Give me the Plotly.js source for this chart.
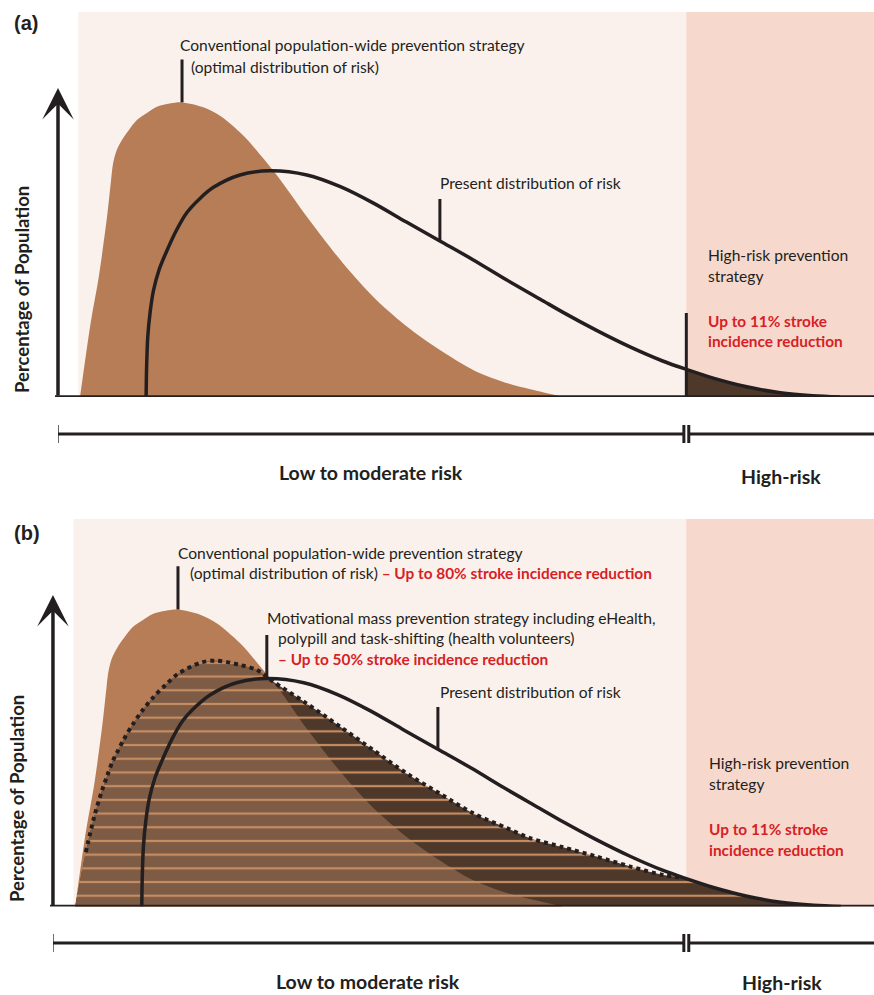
<!DOCTYPE html>
<html>
<head>
<meta charset="utf-8">
<script src="https://cdn.plot.ly/plotly-3.0.1.min.js"></script>
<style>html,body{margin:0;padding:0;background:#fff;}#chart{width:874px;height:995px;}</style>
</head>
<body>
<div id="chart"></div>
<script>
// ---------------- DATA (risk units 0-100, population share in arbitrary units) ----------------
const riskGrid       = [2.7,4.0,5.0,6.0,6.5,6.75,7.2,7.8,8.6,9.7,10.9,12.2,13.7,15.2,17.9,19.9,22.7,24.8,26.8,30.8,34.9,38.9,43,47,51.1,55.2,58,62,66.1,70.2,74.2,76.5,80.3,84.4,88.5,92.5,95.8];
const optimalY       = [0,24.7,40.1,59.9,72.2,77.8,82.3,85.5,88.7,92.4,94.7,96.8,97.8,98.2,96.5,93.7,87.2,80.7,74,59,44.7,32.7,23,15.3,8.7,4.5,2.5,0,0,0,0,0,0,0,0,0,0];
const motivationalY  = [0,18,29.5,38.7,42.5,44.4,47.7,51,55.2,60.2,64.9,69.2,73.3,76.9,80.6,81.3,79.9,78.2,74.3,67.2,59.5,51.8,44,37.4,30.8,25.9,22.6,19.6,16.5,13.2,10.4,9.6,6.3,3.4,1.4,0.4,0];
const presentX       = [10.8,10.85,11.0,11.3,11.7,12.4,13.3,14.5,15.8,17.4,19,22.3,26,30.5,34.6,38.6,42.7,46.8,50.9,55,59.1,61.9,66,70.1,74.1,77,80.3,84.4,88.5,92.5,95.8];
const presentY       = [0,9,20,28.5,35.5,42.5,48.5,55.5,61.5,66.2,69.8,74,75.4,74,70.1,64.7,58.3,52,45.7,39,32.6,28.2,22.2,16.7,12,9.2,6.3,3.4,1.4,0.4,0];
const highRiskThreshold = 77;
const dottedStart = 4.0, dottedEnd = 76.5;

const txt = {
  a: '(a)', b: '(b)',
  yTitle: 'Percentage of Population',
  conv1: 'Conventional population-wide prevention strategy',
  conv2: '(optimal distribution of risk)',
  conv2red: ' – Up to 80% stroke incidence reduction',
  motiv1: 'Motivational mass prevention strategy including eHealth,',
  motiv2: 'polypill and task-shifting (health volunteers)',
  motiv3: '– Up to 50% stroke incidence reduction',
  present: 'Present distribution of risk',
  hr1: 'High-risk prevention', hr2: 'strategy',
  hrRed1: 'Up to 11% stroke', hrRed2: 'incidence reduction',
  low: 'Low to moderate risk', high: 'High-risk'
};

// ---------------- STYLE ----------------
const W = 874, H = 995;
const C = {
  bgLight: '#fbf1ec', bgHigh: '#f6d8cc', brown: '#b67d56', medium: '#7d5b45',
  dark: '#4e382a', stripe: '#c68d62', red: '#d71f26', ink: '#231f20'
};
const FONT = 'Lato, "Open Sans", sans-serif';
const FS = 15.6, FSB = 15.4;
const px = x => x / W;
const py = y => 1 - y / H;

const lastNonZero = arr => { let i = arr.findIndex((v, k) => k > 0 && v === 0); return i < 0 ? arr.length : i + 1; };
const nOpt = lastNonZero(optimalY);
const minY = riskGrid.map((x, i) => Math.min(optimalY[i], motivationalY[i]));
const peakIdx = optimalY.indexOf(Math.max(...optimalY));
const presPeakIdx = presentY.indexOf(Math.max(...presentY));
const presLeaderIdx = presentX.indexOf(46.8);
const hrIdx = presentX.findIndex(v => v >= highRiskThreshold);
const dotI0 = riskGrid.indexOf(dottedStart), dotI1 = riskGrid.indexOf(dottedEnd);

const SPL = { shape: 'spline', smoothing: 0.9 };
function area(x, y, xa, ya, color, pattern) {
  const t = { x, y, xaxis: xa, yaxis: ya, type: 'scatter', mode: 'lines', fill: 'tozeroy',
    fillcolor: color, line: Object.assign({ width: 0, color: color }, SPL), hoverinfo: 'skip' };
  if (pattern) t.fillpattern = { shape: '-', size: 13.7, solidity: 0.16, fgcolor: C.stripe, bgcolor: color, fillmode: 'replace' };
  return t;
}
function curve(x, y, xa, ya, dash, width) {
  return { x, y, xaxis: xa, yaxis: ya, type: 'scatter', mode: 'lines',
    line: Object.assign({ width: width || 3.5, color: C.ink, dash: dash || 'solid' }, SPL), hoverinfo: 'skip' };
}

const traces = [
  // panel a
  area(riskGrid.slice(0, nOpt), optimalY.slice(0, nOpt), 'x', 'y', C.brown),
  area(presentX.slice(hrIdx), presentY.slice(hrIdx), 'x', 'y', C.dark),
  curve(presentX, presentY, 'x', 'y'),
  // panel b
  area(riskGrid.slice(0, nOpt), optimalY.slice(0, nOpt), 'x2', 'y2', C.brown),
  area(riskGrid, motivationalY, 'x2', 'y2', C.dark, true),
  area(riskGrid.slice(0, nOpt), minY.slice(0, nOpt), 'x2', 'y2', C.medium, true),
  curve(riskGrid.slice(dotI0, dotI1 + 1), motivationalY.slice(dotI0, dotI1 + 1), 'x2', 'y2', 'dot', 4),
  curve(presentX, presentY, 'x2', 'y2')
];

// ---------------- LAYOUT ----------------
const panels = [
  { xa: 'x', ya: 'y', base: 397, bar: 434, xLeft: 55, lowY: 472, highY: 476 },
  { xa: 'x2', ya: 'y2', base: 906.5, bar: 943, xLeft: 50, lowY: 981, highY: 982 }
];
const shapes = [], annotations = [];
const lineShape = (o) => Object.assign({ type: 'line', line: { color: C.ink, width: 3.5 } }, o);

panels.forEach((p, k) => {
  // backgrounds
  shapes.push({ type: 'rect', xref: p.xa, yref: p.ya + ' domain', x0: riskGrid[0] - 0.2, x1: 100, y0: 0, y1: 1, fillcolor: C.bgLight, line: { width: 0 }, layer: 'below' });
  shapes.push({ type: 'rect', xref: p.xa, yref: p.ya + ' domain', x0: highRiskThreshold, x1: 100, y0: 0, y1: 1, fillcolor: C.bgHigh, line: { width: 0 }, layer: 'below' });
  // baseline
  shapes.push(lineShape({ xref: 'paper', yref: p.ya, x0: px(p.xLeft), x1: 1, y0: 0, y1: 0 }));
  // y axis arrow
  annotations.push({ xref: p.xa, yref: p.ya, x: 0, y: 103, axref: p.xa, ayref: p.ya, ax: 0, ay: 0, text: '',
    showarrow: true, arrowhead: 3, arrowsize: 1.5, arrowwidth: 3.5, arrowcolor: C.ink });
  // scale bar
  const yb = py(p.bar), cap = 9 / H;
  shapes.push(lineShape({ xref: p.xa, yref: 'paper', x0: -0.1, x1: highRiskThreshold - 0.3, y0: yb, y1: yb, line: { color: C.ink, width: 3.2 } }));
  shapes.push(lineShape({ xref: p.xa, yref: 'paper', x0: highRiskThreshold + 0.3, x1: 100, y0: yb, y1: yb, line: { color: C.ink, width: 3.2 } }));
  [-0.1, highRiskThreshold - 0.3, highRiskThreshold + 0.3].forEach(xv =>
    shapes.push(lineShape({ xref: p.xa, yref: 'paper', x0: xv, x1: xv, y0: yb - cap, y1: yb + cap, line: { color: C.ink, width: 3 } })));
  annotations.push({ xref: p.xa, yref: 'paper', x: (highRiskThreshold - 0.4) / 2, y: py(p.lowY), text: '<b>' + txt.low + '</b>',
    showarrow: false, xanchor: 'center', yanchor: 'middle', font: { family: FONT, size: 19.5, color: C.ink } });
  annotations.push({ xref: p.xa, yref: 'paper', x: (highRiskThreshold + 100.3) / 2, y: py(p.highY), text: '<b>' + txt.high + '</b>',
    showarrow: false, xanchor: 'center', yanchor: 'middle', font: { family: FONT, size: 19.5, color: C.ink } });
  // leader: optimal peak
  shapes.push(lineShape({ xref: p.xa, yref: p.ya, x0: riskGrid[peakIdx], x1: riskGrid[peakIdx], y0: optimalY[peakIdx], y1: 112.5, line: { color: C.ink, width: 3 } }));
  // leader: present
  shapes.push(lineShape({ xref: p.xa, yref: p.ya, x0: presentX[presLeaderIdx], x1: presentX[presLeaderIdx], y0: presentY[presLeaderIdx], y1: 66, line: { color: C.ink, width: 3 } }));
});
// panel a: high-risk leader
shapes.push(lineShape({ xref: 'x', yref: 'y', x0: highRiskThreshold, x1: highRiskThreshold, y0: 0, y1: 28, line: { color: C.ink, width: 3 } }));
// panel b: motivational leader at present peak
shapes.push(lineShape({ xref: 'x2', yref: 'y2', x0: presentX[presPeakIdx], x1: presentX[presPeakIdx], y0: presentY[presPeakIdx], y1: 89.8, line: { color: C.ink, width: 3 } }));

function label(text, x, y, opts) {
  annotations.push(Object.assign({ xref: 'paper', yref: 'paper', x: px(x), y: py(y), text, showarrow: false,
    xanchor: 'left', yanchor: 'middle', font: { family: FONT, size: FS, color: C.ink } }, opts || {}));
}
const red = s => '<span style="color:' + C.red + ';font-size:' + FSB + 'px"><b>' + s + '</b></span>';
const ytOpts = x => ({ textangle: -90, xanchor: 'center', font: { family: FONT, size: 18.5, color: C.ink } });
const tagFont = { family: '"Liberation Sans", Arial, sans-serif', size: 20, color: C.ink };

// panel a texts
label('<b>' + txt.a + '</b>', 12, 23, { font: tagFont });
label('<b>' + txt.yTitle + '</b>', 22, 290, ytOpts());
label(txt.conv1, 178, 45);
label(txt.conv2, 189, 67);
label(txt.present, 438, 183);
label(txt.hr1, 706, 255);
label(txt.hr2, 706, 276);
label(red(txt.hrRed1), 706, 321);
label(red(txt.hrRed2), 706, 341);

// panel b texts
label('<b>' + txt.b + '</b>', 12, 533, { font: tagFont });
label('<b>' + txt.yTitle + '</b>', 17, 799, ytOpts());
label(txt.conv1, 176, 553);
label(txt.conv2 + red(txt.conv2red), 188, 573);
label(txt.motiv1, 265, 618);
label(txt.motiv2, 276, 638);
label(red(txt.motiv3), 276, 659);
label(txt.present, 438, 692);
label(txt.hr1, 707, 763);
label(txt.hr2, 707, 784);
label(red(txt.hrRed1), 707, 829);
label(red(txt.hrRed2), 707, 850);

const hidden = { visible: false, showgrid: false, zeroline: false, fixedrange: true };
const layout = {
  width: W, height: H, margin: { l: 0, r: 0, t: 0, b: 0 },
  paper_bgcolor: '#ffffff', plot_bgcolor: 'rgba(0,0,0,0)', showlegend: false,
  xaxis: Object.assign({ domain: [px(58), 1], range: [0, 100], anchor: 'y' }, hidden),
  yaxis: Object.assign({ domain: [py(397), py(12)], range: [0, (397 - 12) / 3], anchor: 'x' }, hidden),
  xaxis2: Object.assign({ domain: [px(52.96), 1], range: [0, 99.82], anchor: 'y2' }, hidden),
  yaxis2: Object.assign({ domain: [py(906.5), py(519)], range: [0, (906.5 - 519) / 3.024], anchor: 'x2' }, hidden),
  shapes, annotations
};
Plotly.newPlot('chart', traces, layout, { staticPlot: true, displayModeBar: false });
</script>
</body>
</html>
